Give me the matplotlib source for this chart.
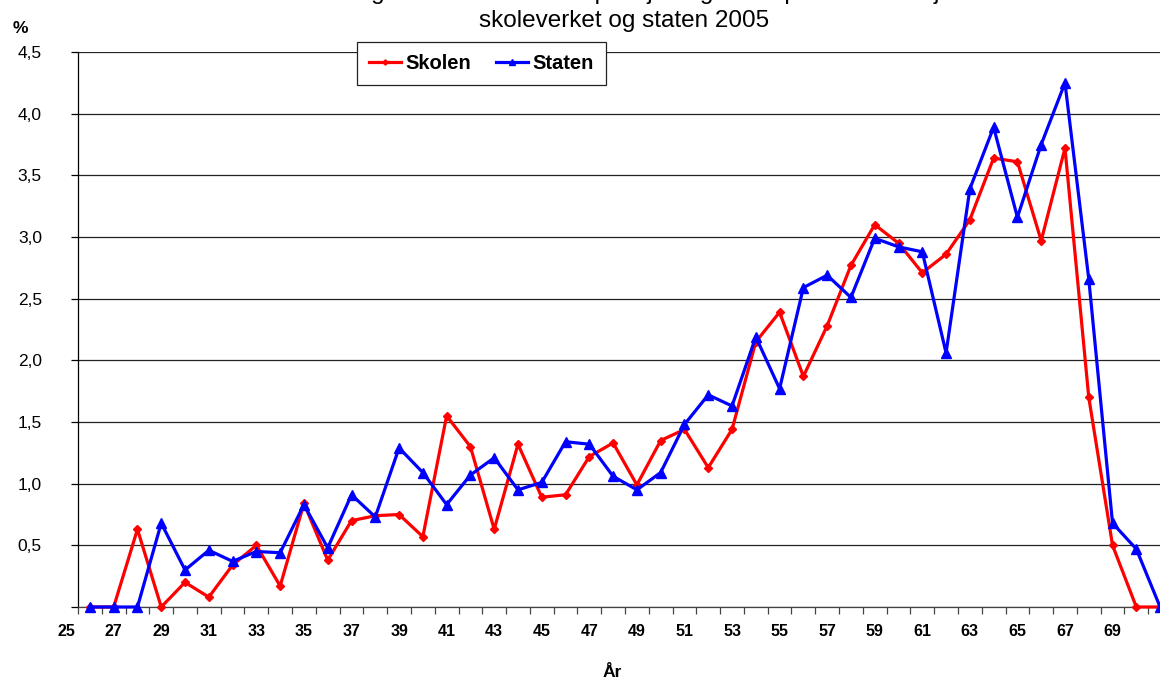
import matplotlib
matplotlib.use("Agg")
import matplotlib.pyplot as plt
from matplotlib.ticker import FixedLocator, NullFormatter
import matplotlib.transforms as mtransforms

plt.rcParams['font.family'] = ['Liberation Sans', 'DejaVu Sans']

ages = list(range(26, 72))
skolen = [0.00, 0.00, 0.63, 0.00, 0.20, 0.08, 0.34, 0.50, 0.17, 0.84,
          0.38, 0.70, 0.74, 0.75, 0.57, 1.55, 1.30, 0.63, 1.32, 0.89,
          0.91, 1.22, 1.33, 0.99, 1.35, 1.44, 1.13, 1.44, 2.15, 2.39,
          1.87, 2.28, 2.77, 3.10, 2.95, 2.71, 2.86, 3.14, 3.64, 3.61,
          2.97, 3.72, 1.70, 0.50, 0.00, 0.00]
staten = [0.00, 0.00, 0.00, 0.68, 0.30, 0.46, 0.37, 0.45, 0.44, 0.83,
          0.48, 0.91, 0.73, 1.29, 1.09, 0.83, 1.07, 1.21, 0.95, 1.01,
          1.34, 1.32, 1.06, 0.95, 1.09, 1.48, 1.72, 1.63, 2.19, 1.77,
          2.59, 2.69, 2.51, 2.99, 2.92, 2.88, 2.06, 3.39, 3.89, 3.16,
          3.75, 4.25, 2.66, 0.68, 0.47, 0.00]
x_labels = list(range(25, 70, 2))
y_ticks = [0, 0.5, 1.0, 1.5, 2.0, 2.5, 3.0, 3.5, 4.0, 4.5]
title_line1 = "Aldersfordeling ved uttak av alderspensjon og AFP i prosent. Pensjonister i"
title_line2 = "skoleverket og staten 2005"

fig = plt.figure(figsize=(11.6, 6.79), dpi=100)
ax = fig.add_axes([78/1160, 72/679, (1172-78)/1160, (607-52)/679])

ax.plot(ages, skolen, color='#FF0000', lw=2.3, marker='D', ms=4.5,
        mec='#FF0000', mfc='#FF0000', label='Skolen', clip_on=False, zorder=3)
ax.plot(ages, staten, color='#0000FF', lw=2.3, marker='^', ms=6.5,
        mec='#0000FF', mfc='#0000FF', label='Staten', clip_on=False, zorder=3)

ax.set_xlim(25.5, 71.5)
ax.set_ylim(0, 4.5)

# y axis
ax.set_yticks(y_ticks)
ax.set_yticklabels(['' if v == 0 else f"{v:.1f}".replace('.', ',') for v in y_ticks],
                   fontsize=12.5)
ax.tick_params(axis='y', direction='out', length=5, width=0.9, pad=21, color='black')
ax.yaxis.grid(True, color='#222222', lw=0.9)
ax.set_axisbelow(True)

# x axis: tick marks at category boundaries, labels at category centres
ax.xaxis.set_major_locator(FixedLocator([a - 0.5 for a in range(26, 73)]))
ax.xaxis.set_major_formatter(NullFormatter())
ax.xaxis.set_minor_locator(FixedLocator([v for v in x_labels if v > 25.5]))
ax.set_xticklabels([str(v) for v in x_labels if v > 25.5], minor=True,
                   fontsize=11.5, fontweight='bold')
ax.tick_params(axis='x', which='major', direction='out', length=5, width=0.9, color='#444444')
ax.tick_params(axis='x', which='minor', length=0, pad=12)
trans = mtransforms.blended_transform_factory(ax.transData, ax.transAxes)
off = mtransforms.ScaledTranslation(0, -17/100, fig.dpi_scale_trans)
for v in x_labels:
    if v < 25.5:
        ax.text(v, 0, str(v), transform=trans + off, fontsize=11.5, fontweight='bold',
                ha='center', va='top', clip_on=False)

for s in ['top', 'right']:
    ax.spines[s].set_visible(False)
ax.spines['left'].set_color('black')
ax.spines['left'].set_linewidth(0.9)
ax.spines['bottom'].set_color('#444444')
ax.spines['bottom'].set_linewidth(0.9)

leg = ax.legend(loc='upper left', bbox_to_anchor=(357/1160, 1 - 42/679),
                bbox_transform=fig.transFigure, ncol=2, frameon=True,
                fancybox=False, edgecolor='#222222', framealpha=1,
                prop={'weight': 'bold', 'size': 14.5}, handlelength=1.6,
                handletextpad=0.2, columnspacing=1.25, borderpad=0.6,
                borderaxespad=0, markerscale=0.6)
leg.get_frame().set_linewidth(0.9)

fig.text(624/1160, 1 + 1/679, title_line1, ha='center', va='baseline', fontsize=17.5)
fig.text(624/1160, 1 - 27/679, title_line2, ha='center', va='baseline', fontsize=17.5)
fig.text(20/1160, 1 - 33/679, '%', ha='center', va='baseline', fontsize=12.5, fontweight='bold')
fig.text(612/1160, 1 - 677/679, 'År', ha='center', va='baseline', fontsize=12.5, fontweight='bold')

fig.savefig('out.png', dpi=100)
